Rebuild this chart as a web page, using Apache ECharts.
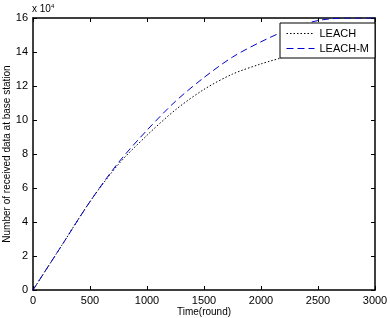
<!DOCTYPE html>
<html>
<head>
<meta charset="utf-8">
<script src="https://cdn.jsdelivr.net/npm/echarts@6/dist/echarts.min.js"></script>
<style>
html, body { margin: 0; padding: 0; background: #fff; }
#main { width: 390px; height: 318px; }
</style>
</head>
<body>
<div id="main"></div>
<script>
// rounds and received data (x 10^4)
var rounds = [0, 250, 500, 750, 1000, 1250, 1500, 1750, 2000, 2250, 2500, 2750, 3000];
var leach = [0, 2.6, 5.2, 7.4, 9.1, 10.6, 11.8, 12.7, 13.3, 13.8, 14.4, 15.0, 15.4];
var leachM = [0, 2.6, 5.2, 7.5, 9.4, 11.1, 12.5, 13.7, 14.6, 15.35, 15.85, 16.0, 16.0];

function pairs(xs, ys) {
	var out = [];
	for (var i = 0; i < xs.length; i++) out.push([xs[i], ys[i]]);
	return out;
}

var myChart = echarts.init(document.getElementById('main'));
var font = 'Liberation Sans';

var axisCommon = {
	axisLine: { show: true, onZero: false, lineStyle: { color: '#000', width: 1.5 } },
	axisTick: { show: true, inside: true, length: 4, lineStyle: { color: '#000' } },
	splitLine: { show: false }
};

var option = {
	backgroundColor: '#fff',
	animation: false,
	textStyle: { fontFamily: font },
	grid: { left: 33, right: 15, top: 18, bottom: 28, containLabel: false, outerBoundsMode: 'none' },
	legend: {
		orient: 'vertical',
		left: 280,
		top: 23,
		padding: [5, 6, 4, 6],
		itemGap: 4,
		itemWidth: 28,
		itemHeight: 10,
		itemStyle: { opacity: 0 },
		lineStyle: { width: 1 },
		backgroundColor: '#fff',
		borderColor: '#000',
		borderWidth: 1,
		borderRadius: 0,
		textStyle: { color: '#000', fontSize: 11, fontFamily: font },
		data: ['LEACH', 'LEACH-M']
	},
	xAxis: [Object.assign({
		type: 'value',
		min: 0, max: 3000, interval: 500,
		position: 'bottom',
		name: 'Time(round)',
		nameLocation: 'middle',
		nameGap: 17,
		nameMoveOverlap: false,
		nameTextStyle: { color: '#000', fontSize: 10, fontFamily: font },
		axisLabel: { color: '#000', fontSize: 11, margin: 5, fontFamily: font, formatter: function (v) { return String(v); } }
	}, axisCommon), Object.assign({
		type: 'value',
		min: 0, max: 3000, interval: 500,
		position: 'top',
		axisLabel: { show: false }
	}, axisCommon)],
	yAxis: [Object.assign({
		type: 'value',
		min: 0, max: 16, interval: 2,
		position: 'left',
		name: 'Number of received data at base station',
		nameLocation: 'middle',
		nameGap: 21,
		nameMoveOverlap: false,
		nameTextStyle: { color: '#000', fontSize: 10, fontFamily: font },
		axisLabel: { color: '#000', fontSize: 11, margin: 5, fontFamily: font }
	}, axisCommon), Object.assign({
		type: 'value',
		min: 0, max: 16, interval: 2,
		position: 'right',
		axisLabel: { show: false }
	}, axisCommon)],
	graphic: [{
		type: 'text',
		left: 32,
		top: 3,
		style: {
			text: '{a|x 10}{b|4}',
			rich: {
				a: { fontSize: 10, fill: '#000', fontFamily: font },
				b: { fontSize: 6, fill: '#000', fontFamily: font, verticalAlign: 'top', padding: [0, 0, 6, 0] }
			}
		}
	}],
	series: [{
		name: 'LEACH',
		type: 'line',
		smooth: 0.3,
		symbol: 'none',
		data: pairs(rounds, leach),
		lineStyle: { color: '#000', width: 1, type: [1.5, 2] },
		itemStyle: { color: '#000' },
		z: 2
	}, {
		name: 'LEACH-M',
		type: 'line',
		smooth: 0.3,
		symbol: 'none',
		data: pairs(rounds, leachM),
		lineStyle: { color: '#0000cc', width: 1, type: [7, 4] },
		itemStyle: { color: '#0000cc' },
		z: 3
	}]
};

myChart.setOption(option);
</script>
</body>
</html>
